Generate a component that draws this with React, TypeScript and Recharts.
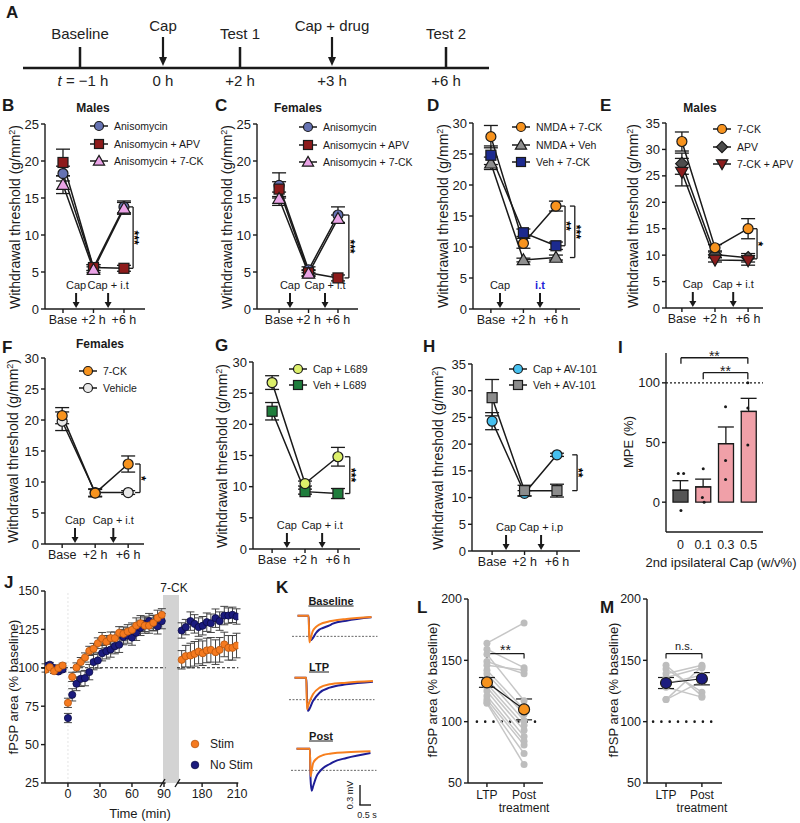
import React from 'react';
import {
  ComposedChart, LineChart, Line, Bar, Cell, Scatter, XAxis, YAxis,
  ErrorBar, ReferenceLine, ReferenceDot,
} from 'recharts';

const FONT = '"Liberation Sans", Arial, Helvetica, sans-serif';
const INK = '#1a1a1a';

// ---------- A: timeline
const tlEvents = ['Baseline', 'Cap', 'Test 1', 'Cap + drug', 'Test 2'];
const tlTimes = ['= −1 h', '0 h', '+2 h', '+3 h', '+6 h'];
const tlIsArrow = [false, true, false, true, false];

// ---------- B–H: withdrawal threshold (g/mm²)
const timeLabels = ['Base', '+2 h', '+6 h'];

const bAniso = [18.3, 5.6, 13.8];
const bAnisoErr = [1.0, 0.4, 0.8];
const bAnisoApv = [19.8, 5.6, 5.5];
const bAnisoApvErr = [1.8, 0.4, 0.4];
const bAniso7ck = [16.8, 5.3, 13.6];
const bAniso7ckErr = [1.2, 0.4, 0.8];

const cAniso = [16.7, 5.3, 12.7];
const cAnisoErr = [1.7, 0.4, 1.1];
const cAnisoApv = [16.2, 4.9, 4.2];
const cAnisoApvErr = [1.0, 0.4, 0.4];
const cAniso7ck = [14.9, 4.8, 12.2];
const cAniso7ckErr = [0.9, 0.4, 0.5];

const dNmda7ck = [27.8, 10.6, 16.6];
const dNmda7ckErr = [1.8, 0.8, 0.8];
const dNmdaVeh = [23.5, 7.9, 8.3];
const dNmdaVehErr = [1.0, 0.3, 0.4];
const dVeh7ck = [24.8, 12.3, 10.2];
const dVeh7ckErr = [1.5, 0.6, 0.6];

const e7ck = [31.5, 11.4, 15.0];
const e7ckErr = [1.8, 0.6, 1.9];
const eApv = [27.3, 10.1, 9.5];
const eApvErr = [2.0, 0.5, 0.8];
const e7ckApv = [25.7, 9.1, 9.0];
const e7ckApvErr = [2.6, 0.4, 0.9];

const f7ck = [20.7, 8.2, 12.9];
const f7ckErr = [1.3, 0.6, 1.3];
const fVehicle = [19.8, 8.3, 8.3];
const fVehicleErr = [1.5, 0.6, 0.3];

const gCapL689 = [26.7, 10.5, 14.8];
const gCapL689Err = [1.1, 0.4, 1.5];
const gVehL689 = [22.1, 9.2, 8.9];
const gVehL689Err = [1.4, 0.4, 0.8];

const hCapAv = [24.3, 10.8, 18.0];
const hCapAvErr = [1.6, 0.5, 0.3];
const hVehAv = [28.7, 11.3, 11.3];
const hVehAvErr = [3.4, 1.0, 1.2];

const ticks25 = [0, 5, 10, 15, 20, 25];
const ticks30 = [0, 5, 10, 15, 20, 25, 30];
const ticks35 = [0, 5, 10, 15, 20, 25, 30, 35];

// ---------- I: MPE (%)
const iDoses = ['0', '0.1', '0.3', '0.5'];
const iMpe = [10, 12.8, 49, 76];
const iMpeErr = [8, 6.5, 14, 11];
const iDotGroup = [0, 0, 0, 1, 1, 1, 2, 2, 2, 3, 3, 3];
const iDotShift = [-0.12, 0.12, 0, 0, -0.04, 0.04, 0, 0, 0, 0, 0, 0];
const iDotVal = [24, 24, -7, 28, 4, 0, 80, 35, 19, 100, 79, 48];

// ---------- J: fPSP area time course
const jPreT = [-21, -17, -13, -9, -5];
const jStimPre = [98.7, 100.4, 97.8, 99.8, 101.5];
const jStimPreErr = [1.5, 1.5, 1.5, 2, 1.5];
const jNoPre = [101.1, 102, 99.8, 97.6, 98.9];
const jNoPreErr = [1.5, 1.5, 1.5, 1.5, 1.5];

const jPostT = [0, 4, 8, 12, 16, 20, 24, 28, 32, 36, 40, 44, 48, 52, 56, 60, 64, 68, 72, 76, 80, 84, 88];
const jStimPost = [77.2, 94.1, 100.2, 103.7, 106.7, 111, 112.4, 116, 119, 117, 119.3, 119.3, 122.8, 122.1, 123.6, 124.7, 127.5, 129, 127.5, 127.5, 129.3, 132.5, 134.5];
const jStimPostErr = [3, 3, 3, 3, 3, 3, 3.5, 3.5, 4, 4, 4, 4, 4, 4.5, 4.5, 4.5, 5, 5, 5, 5, 5, 5, 4];
const jNoPost = [67.3, 82.4, 89.6, 92.8, 93.3, 97.2, 103.7, 104.8, 109.5, 110.8, 111.9, 114.1, 115, 120, 121, 119.7, 122.8, 126, 128.6, 130.4, 129, 127, 130.4];
const jNoPostErr = [3, 4, 4.5, 5, 5, 5, 5, 5, 5, 5, 5, 5, 5, 5, 5, 5, 5, 5, 5, 5, 5, 5, 5];

const jLateT = [162.5, 166, 170, 173.5, 177, 180.5, 184, 187.5, 191.5, 195, 199, 202.5, 206, 209.5];
const jStimLate = [105.2, 107.6, 108, 109.1, 110.6, 109.5, 111.3, 111.7, 110.2, 111.7, 115.2, 113, 113, 114.5];
const jStimLateErr = [6, 7, 8, 8, 8, 8, 8, 8, 8, 8, 8, 8, 8, 8];
const jNoLate = [124.3, 126.5, 130.4, 128.6, 126.5, 127.4, 129.7, 129, 132.3, 130.4, 134, 134, 134.5, 133.4];
const jNoLateErr = [5, 5, 6, 6, 6, 6, 6, 6, 6, 6, 6, 5, 5, 5];
const jTicksY = [25, 50, 75, 100, 125, 150];

// ---------- K: example traces (s, mV relative to baseline)
const kBaseT = [0, 0.5, 0.53, 0.6, 0.68, 0.83, 0.98, 1.14, 1.44, 1.59, 2.2, 3.33];
const kBaseStim = [0, 0, -0.4, -0.33, -0.235, -0.17, -0.135, -0.11, -0.085, -0.075, -0.05, -0.02];
const kBaseNo = [0, 0, -0.3, -0.37, -0.34, -0.26, -0.21, -0.185, -0.145, -0.12, -0.075, -0.025];
const kLtpT = [0, 0.53, 0.56, 0.6, 0.83, 1.13, 1.58, 2.33, 3.53];
const kLtpStim = [0, 0, -0.475, -0.43, -0.25, -0.15, -0.1, -0.075, -0.05];
const kLtpNo = [0, 0, -0.3, -0.5, -0.35, -0.225, -0.15, -0.1, -0.06];
const kPostT = [0, 0.6, 0.63, 0.68, 0.75, 0.9, 1.05, 1.2, 1.5, 1.65, 2.25, 3.33];
const kPostStim = [0, 0, -0.415, -0.33, -0.215, -0.15, -0.115, -0.095, -0.075, -0.068, -0.055, -0.04];
const kPostNo = [0, 0, -0.45, -0.63, -0.56, -0.415, -0.34, -0.29, -0.23, -0.2, -0.14, -0.065];

// ---------- L / M: paired fPSP area
const pairLabels = ['LTP', 'Post\ntreatment'];
const lLtp = [164, 159, 155, 149, 146, 142, 139, 135, 131, 128, 125, 121, 118, 116, 115];
const lPost = [180.5, 144, 117, 139, 142, 110, 106, 101, 97, 93, 88, 84, 81, 74, 65];
const lMean = [132, 110];
const lMeanErr = [4, 8.5];
const mLtp = [146, 143, 139, 136, 131, 128, 118, 118];
const mPost = [121, 124, 146, 144, 138, 120, 145, 133];
const mMean = [131.5, 135];
const mMeanErr = [4.5, 5];
const lmTicks = [50, 100, 150, 200];

const ORANGE = '#f7931e';
const STIM = '#f57a1f';
const NAVY = '#1b1b7e';

const axisStyle = { stroke: INK, strokeWidth: 1.4 };

// ---------- helpers
function Txt({ x, y, size = 12, weight = 400, anchor = 'middle', color = INK, underline = false, children }: any) {
  const tx = anchor === 'middle' ? '-50%' : anchor === 'end' ? '-100%' : '0';
  return (
    <div style={{
      position: 'absolute', left: x, top: y, transform: `translate(${tx}, -50%)`, fontSize: size,
      fontWeight: weight, color, whiteSpace: 'nowrap', lineHeight: 1,
      textDecoration: underline ? 'underline' : 'none',
    }}>{children}</div>
  );
}

function VTxt({ x, y, size = 14, children }: any) {
  return (
    <div style={{
      position: 'absolute', left: x, top: y, transform: 'translate(-50%, -50%) rotate(-90deg)',
      fontSize: size, color: INK, whiteSpace: 'nowrap', lineHeight: 1,
    }}>{children}</div>
  );
}

function Marker({ cx, cy, shape, fill, r = 5, stroke = INK }: any) {
  if (cx == null || cy == null || Number.isNaN(cx) || Number.isNaN(cy)) return null;
  const sw = 1.2;
  if (shape === 'square') {
    return <rect x={cx - r} y={cy - r} width={2 * r} height={2 * r} fill={fill} stroke={stroke} strokeWidth={sw} />;
  }
  if (shape === 'triangle') {
    const h = r * 1.25;
    return <polygon points={`${cx},${cy - h} ${cx + h},${cy + h * 0.75} ${cx - h},${cy + h * 0.75}`} fill={fill} stroke={stroke} strokeWidth={sw} />;
  }
  if (shape === 'down') {
    const h = r * 1.25;
    return <polygon points={`${cx},${cy + h} ${cx + h},${cy - h * 0.75} ${cx - h},${cy - h * 0.75}`} fill={fill} stroke={stroke} strokeWidth={sw} />;
  }
  if (shape === 'diamond') {
    const h = r * 1.25;
    return <polygon points={`${cx},${cy - h} ${cx + h},${cy} ${cx},${cy + h} ${cx - h},${cy}`} fill={fill} stroke={stroke} strokeWidth={sw} />;
  }
  return <circle cx={cx} cy={cy} r={r} fill={fill} stroke={stroke} strokeWidth={sw} />;
}

function ArrowMark({ cx, cy, label, color = INK, bold = false }: any) {
  return (
    <g>
      <line x1={cx} y1={cy - 16} x2={cx} y2={cy - 6} stroke={INK} strokeWidth={2} />
      <polygon points={`${cx - 3.5},${cy - 7} ${cx + 3.5},${cy - 7} ${cx},${cy - 1}`} fill={INK} />
      <text x={cx} y={cy - 20} textAnchor="middle" fontSize={11} fill={color} fontWeight={bold ? 700 : 400}>{label}</text>
    </g>
  );
}

// stars written along a vertical bracket
function StarText({ cx, cy, text }: any) {
  const x = cx - 3;
  return (
    <text x={x} y={cy} transform={`rotate(90 ${x} ${cy})`} textAnchor="middle" fontSize={12} fontWeight={700} fill="#000">{text}</text>
  );
}

// ---------- behaviour panels (B–H)
type Series = { name: string; values: number[]; errors: number[]; shape: string; fill: string };
type PanelCfg = {
  letter: string; letterX: number; letterY: number;
  title?: string; titleX?: number; titleY?: number;
  axisX: number; topPx: number; zeroPx: number; xEnd: number;
  xDomain: number[]; yMax: number; yTicks: number[]; yTitleX: number;
  series: Series[]; order?: number[];
  arrows: { x: number; label: string; color?: string; bold?: boolean }[];
  brackets: { x: number; y1: number; y2: number; text: string }[];
  legend: { x: number; y: number; dy: number };
};

const panels: PanelCfg[] = [
  {
    letter: 'B', letterX: 2, letterY: 105, title: 'Males', titleX: 93, titleY: 108,
    axisX: 45, topPx: 124, zeroPx: 309, xEnd: 145, xDomain: [-0.59, 2.69], yMax: 25, yTicks: ticks25, yTitleX: 15,
    series: [
      { name: 'Anisomycin', values: bAniso, errors: bAnisoErr, shape: 'circle', fill: '#6673b3' },
      { name: 'Anisomycin + APV', values: bAnisoApv, errors: bAnisoApvErr, shape: 'square', fill: '#8e1b1b' },
      { name: 'Anisomycin + 7-CK', values: bAniso7ck, errors: bAniso7ckErr, shape: 'triangle', fill: '#eaa3e6' },
    ],
    arrows: [{ x: 0.43, label: 'Cap' }, { x: 1.48, label: 'Cap + i.t' }],
    brackets: [{ x: 2.3, y1: 13.8, y2: 5.5, text: '***' }],
    legend: { x: 99, y: 126, dy: 17.5 },
  },
  {
    letter: 'C', letterX: 215, letterY: 105, title: 'Females', titleX: 298, titleY: 108,
    axisX: 257, topPx: 124, zeroPx: 309, xEnd: 358, xDomain: [-0.75, 2.68], yMax: 25, yTicks: ticks25, yTitleX: 227,
    series: [
      { name: 'Anisomycin', values: cAniso, errors: cAnisoErr, shape: 'circle', fill: '#6673b3' },
      { name: 'Anisomycin + APV', values: cAnisoApv, errors: cAnisoApvErr, shape: 'square', fill: '#8e1b1b' },
      { name: 'Anisomycin + 7-CK', values: cAniso7ck, errors: cAniso7ckErr, shape: 'triangle', fill: '#eaa3e6' },
    ],
    arrows: [{ x: 0.37, label: 'Cap' }, { x: 1.56, label: 'Cap + i.t' }],
    brackets: [{ x: 2.37, y1: 12.7, y2: 4.2, text: '***' }],
    legend: { x: 308, y: 127, dy: 17.5 },
  },
  {
    letter: 'D', letterX: 427, letterY: 105,
    axisX: 473, topPx: 123, zeroPx: 309, xEnd: 580, xDomain: [-0.55, 2.74], yMax: 30, yTicks: ticks30, yTitleX: 443,
    series: [
      { name: 'NMDA + 7-CK', values: dNmda7ck, errors: dNmda7ckErr, shape: 'circle', fill: ORANGE },
      { name: 'NMDA + Veh', values: dNmdaVeh, errors: dNmdaVehErr, shape: 'triangle', fill: '#8f8f8f' },
      { name: 'Veh + 7-CK', values: dVeh7ck, errors: dVeh7ckErr, shape: 'square', fill: '#1c2a8f' },
    ],
    arrows: [{ x: 0.28, label: 'Cap' }, { x: 1.51, label: 'i.t', color: '#2323d8', bold: true }],
    brackets: [{ x: 2.28, y1: 16.6, y2: 10.2, text: '**' }, { x: 2.58, y1: 16.6, y2: 8.3, text: '***' }],
    legend: { x: 521, y: 127, dy: 17.5 },
  },
  {
    letter: 'E', letterX: 600, letterY: 105, title: 'Males', titleX: 700, titleY: 108,
    axisX: 666, topPx: 123, zeroPx: 308, xEnd: 763, xDomain: [-0.48, 2.45], yMax: 35, yTicks: ticks35, yTitleX: 633,
    series: [
      { name: '7-CK', values: e7ck, errors: e7ckErr, shape: 'circle', fill: ORANGE },
      { name: 'APV', values: eApv, errors: eApvErr, shape: 'diamond', fill: '#4d4d4d' },
      { name: '7-CK + APV', values: e7ckApv, errors: e7ckApvErr, shape: 'down', fill: '#8b1d1d' },
    ],
    order: [1, 2, 0],
    arrows: [{ x: 0.33, label: 'Cap' }, { x: 1.55, label: 'Cap + i.t' }],
    brackets: [{ x: 2.27, y1: 15.0, y2: 9.3, text: '*' }],
    legend: { x: 722, y: 129, dy: 17.5 },
  },
  {
    letter: 'F', letterX: 2, letterY: 347, title: 'Females', titleX: 100, titleY: 344,
    axisX: 45, topPx: 358, zeroPx: 544, xEnd: 144, xDomain: [-0.52, 2.48], yMax: 30, yTicks: ticks30, yTitleX: 13,
    series: [
      { name: '7-CK', values: f7ck, errors: f7ckErr, shape: 'circle', fill: ORANGE },
      { name: 'Vehicle', values: fVehicle, errors: fVehicleErr, shape: 'circle', fill: '#e8e8e8' },
    ],
    order: [1, 0],
    arrows: [{ x: 0.39, label: 'Cap' }, { x: 1.55, label: 'Cap + i.t' }],
    brackets: [{ x: 2.36, y1: 12.9, y2: 8.3, text: '*' }],
    legend: { x: 88, y: 371, dy: 16.5 },
  },
  {
    letter: 'G', letterX: 215, letterY: 345,
    axisX: 253, topPx: 362, zeroPx: 549, xEnd: 360, xDomain: [-0.58, 2.67], yMax: 30, yTicks: ticks30, yTitleX: 222,
    series: [
      { name: 'Cap + L689', values: gCapL689, errors: gCapL689Err, shape: 'circle', fill: '#dcef6a' },
      { name: 'Veh + L689', values: gVehL689, errors: gVehL689Err, shape: 'square', fill: '#1f7d3c' },
    ],
    order: [1, 0],
    arrows: [{ x: 0.45, label: 'Cap' }, { x: 1.52, label: 'Cap + i.t' }],
    brackets: [{ x: 2.36, y1: 14.8, y2: 8.9, text: '***' }],
    legend: { x: 298, y: 369, dy: 16 },
  },
  {
    letter: 'H', letterX: 423, letterY: 346,
    axisX: 472, topPx: 364, zeroPx: 551, xEnd: 580, xDomain: [-0.62, 2.71], yMax: 35, yTicks: ticks35, yTitleX: 438,
    series: [
      { name: 'Cap + AV-101', values: hCapAv, errors: hCapAvErr, shape: 'circle', fill: '#46c0ef' },
      { name: 'Veh + AV-101', values: hVehAv, errors: hVehAvErr, shape: 'square', fill: '#8c8c8c' },
    ],
    arrows: [{ x: 0.43, label: 'Cap' }, { x: 1.51, label: 'Cap + i.p' }],
    brackets: [{ x: 2.62, y1: 18.0, y2: 11.3, text: '**' }],
    legend: { x: 518, y: 369, dy: 16 },
  },
];

function LegendBlock({ x, y, dy, series }: any) {
  return (
    <>
      {series.map((s: Series, i: number) => (
        <div key={i} style={{
          position: 'absolute', left: x - 9, top: y + i * dy - 7, height: 14,
          display: 'flex', alignItems: 'center', whiteSpace: 'nowrap',
        }}>
          <svg width={18} height={14}>
            <line x1={0} y1={7} x2={18} y2={7} stroke={INK} strokeWidth={1.5} />
            <Marker cx={9} cy={7} shape={s.shape} fill={s.fill} r={4.5} />
          </svg>
          <span style={{ marginLeft: 6, fontSize: 10.5, color: INK }}>{s.name}</span>
        </div>
      ))}
    </>
  );
}

function BehaviorPanel({ p }: { p: PanelCfg }) {
  const YW = 30, MT = 8, MR = 14, XH = 28;
  const rows = timeLabels.map((_, i) => {
    const r: any = { x: i };
    p.series.forEach((s, j) => { r[`v${j}`] = s.values[i]; r[`e${j}`] = s.errors[i]; });
    return r;
  });
  const width = YW + (p.xEnd - p.axisX) + MR;
  const height = MT + (p.zeroPx - p.topPx) + XH;
  const order = p.order ?? p.series.map((_, j) => j);
  const tk = 0.15;
  return (
    <>
      <Txt x={p.letterX} y={p.letterY} size={17} weight={700} anchor="start">{p.letter}</Txt>
      {p.title && <Txt x={p.titleX} y={p.titleY} size={12} weight={700}>{p.title}</Txt>}
      <VTxt x={p.yTitleX} y={(p.topPx + p.zeroPx) / 2} size={14}>Withdrawal threshold (g/mm<sup style={{ fontSize: 9 }}>2</sup>)</VTxt>
      <div style={{ position: 'absolute', left: p.axisX - YW, top: p.topPx - MT }}>
        <ComposedChart width={width} height={height} data={rows} margin={{ top: MT, right: MR, bottom: 0, left: 0 }}>
          <XAxis type="number" dataKey="x" domain={p.xDomain} allowDataOverflow ticks={[0, 1, 2]} interval={0}
            tickFormatter={(v: number) => timeLabels[v]} height={XH} tick={{ fontSize: 12.5, fill: INK }}
            tickSize={4} axisLine={axisStyle} tickLine={axisStyle} />
          <YAxis type="number" domain={[0, p.yMax]} allowDataOverflow ticks={p.yTicks} interval={0} width={YW}
            tick={{ fontSize: 13, fill: INK }} tickSize={4} axisLine={axisStyle} tickLine={axisStyle} />
          {p.arrows.map((a, i) => (
            <ReferenceDot key={`a${i}`} x={a.x} y={0} r={0} ifOverflow="visible"
              shape={(d: any) => <ArrowMark cx={d.cx} cy={d.cy} label={a.label} color={a.color} bold={a.bold} />} />
          ))}
          {p.brackets.map((b, i) => (
            <ReferenceLine key={`bv${i}`} segment={[{ x: b.x, y: b.y1 }, { x: b.x, y: b.y2 }]} stroke={INK} strokeWidth={1.3} ifOverflow="visible" />
          ))}
          {p.brackets.map((b, i) => (
            <ReferenceLine key={`bt${i}`} segment={[{ x: b.x - tk, y: b.y1 }, { x: b.x, y: b.y1 }]} stroke={INK} strokeWidth={1.3} ifOverflow="visible" />
          ))}
          {p.brackets.map((b, i) => (
            <ReferenceLine key={`bb${i}`} segment={[{ x: b.x - tk, y: b.y2 }, { x: b.x, y: b.y2 }]} stroke={INK} strokeWidth={1.3} ifOverflow="visible" />
          ))}
          {p.brackets.map((b, i) => (
            <ReferenceDot key={`bs${i}`} x={b.x} y={(b.y1 + b.y2) / 2} r={0} ifOverflow="visible"
              shape={(d: any) => <StarText cx={d.cx} cy={d.cy} text={b.text} />} />
          ))}
          {order.map((j) => {
            const s = p.series[j];
            return (
              <Line key={`l${j}`} dataKey={`v${j}`} stroke={INK} strokeWidth={1.5} isAnimationActive={false} activeDot={false}
                dot={(d: any) => <g key={`m${j}-${d.index}`}><Marker cx={d.cx} cy={d.cy} shape={s.shape} fill={s.fill} r={5} /></g>}>
                <ErrorBar dataKey={`e${j}`} width={7} stroke={INK} strokeWidth={1.3} direction="y" />
              </Line>
            );
          })}
        </ComposedChart>
      </div>
      <LegendBlock x={p.legend.x} y={p.legend.y} dy={p.legend.dy} series={p.series} />
    </>
  );
}

// ---------- A
function PanelA() {
  const tlX = [80, 163, 240, 332, 446];
  return (
    <>
      <Txt x={6} y={12} size={17} weight={700} anchor="start">A</Txt>
      <svg style={{ position: 'absolute', left: 0, top: 0 }} width={500} height={95}>
        <line x1={23} y1={68} x2={489} y2={68} stroke={INK} strokeWidth={2.5} />
        {tlEvents.map((ev, i) => {
          const x = tlX[i];
          return (
            <g key={i}>
              {tlIsArrow[i] ? (
                <>
                  <line x1={x} y1={37} x2={x} y2={58} stroke={INK} strokeWidth={2.2} />
                  <polygon points={`${x - 4},57 ${x + 4},57 ${x},66`} fill={INK} />
                </>
              ) : (
                <line x1={x} y1={47} x2={x} y2={68} stroke={INK} strokeWidth={2.5} />
              )}
              <text x={x} y={tlIsArrow[i] ? 30.5 : 38.5} textAnchor="middle" fontSize={15} fill="#222">{ev}</text>
              <text x={i === 0 ? x + 3 : x} y={85.5} textAnchor="middle" fontSize={15} fill="#222">
                {i === 0 && <tspan fontStyle="italic">t </tspan>}{tlTimes[i]}
              </text>
            </g>
          );
        })}
      </svg>
    </>
  );
}

// ---------- I
function PanelI() {
  const YW = 30, MT = 4, MR = 4, XH = 22;
  const axisX = 666, topPx = 353, botPx = 532, xEnd = 763;
  const rows = iDoses.map((dose, i) => ({ dose, x: i, mpe: iMpe[i], err: [0, iMpeErr[i]] }));
  const dots = iDotGroup.map((g, k) => ({ x: g + iDotShift[k], y: iDotVal[k] }));
  const fills = ['#555555', '#f0a0a8', '#f0a0a8', '#f0a0a8'];
  const br = [
    { a: 0, b: 3, y: 121, lo: 116 },
    { a: 1, b: 3, y: 108.5, lo: 103 },
  ];
  return (
    <>
      <Txt x={618} y={347} size={17} weight={700} anchor="start">I</Txt>
      <VTxt x={628} y={442} size={13}>MPE (%)</VTxt>
      <Txt x={721} y={562} size={13}>2nd ipsilateral Cap (w/v%)</Txt>
      <div style={{ position: 'absolute', left: axisX - YW, top: topPx - MT }}>
        <ComposedChart width={YW + xEnd - axisX + MR} height={MT + botPx - topPx + XH} data={rows}
          margin={{ top: MT, right: MR, bottom: 0, left: 0 }}>
          <XAxis xAxisId="cat" type="category" dataKey="dose" padding={{ left: 3, right: 3 }} interval={0}
            height={XH} tick={{ fontSize: 12.5, fill: INK }} tickLine={false} axisLine={axisStyle} />
          <XAxis xAxisId="num" type="number" dataKey="x" hide domain={[-0.67, 3.68]} allowDataOverflow />
          <YAxis type="number" domain={[-25, 125]} allowDataOverflow ticks={[0, 50, 100]} interval={0} width={YW}
            tick={{ fontSize: 13, fill: INK }} tickSize={4} axisLine={axisStyle} tickLine={axisStyle} />
          <ReferenceLine xAxisId="num" y={100} stroke={INK} strokeDasharray="2 2" strokeWidth={1.2} />
          <Bar xAxisId="cat" dataKey="mpe" barSize={15} stroke={INK} strokeWidth={1.3} isAnimationActive={false}>
            {rows.map((_, i) => <Cell key={i} fill={fills[i]} />)}
          </Bar>
          <Line xAxisId="cat" dataKey="mpe" stroke="none" dot={false} activeDot={false} isAnimationActive={false}>
            <ErrorBar dataKey="err" width={8} stroke={INK} strokeWidth={1.3} direction="y" />
          </Line>
          <Scatter xAxisId="num" data={dots} dataKey="y" isAnimationActive={false}
            shape={(d: any) => <circle cx={d.cx} cy={d.cy} r={1.5} fill={INK} />} />
          {br.map((b, i) => (
            <ReferenceLine key={`h${i}`} xAxisId="num" segment={[{ x: b.a, y: b.y }, { x: b.b, y: b.y }]} stroke={INK} strokeWidth={1.3} ifOverflow="visible" />
          ))}
          {br.map((b, i) => (
            <ReferenceLine key={`l${i}`} xAxisId="num" segment={[{ x: b.a, y: b.lo }, { x: b.a, y: b.y }]} stroke={INK} strokeWidth={1.3} ifOverflow="visible" />
          ))}
          {br.map((b, i) => (
            <ReferenceLine key={`r${i}`} xAxisId="num" segment={[{ x: b.b, y: b.lo }, { x: b.b, y: b.y }]} stroke={INK} strokeWidth={1.3} ifOverflow="visible" />
          ))}
          {br.map((b, i) => (
            <ReferenceDot key={`t${i}`} xAxisId="num" x={(b.a + b.b) / 2} y={b.y} r={0} ifOverflow="visible"
              shape={(d: any) => <text x={d.cx} y={d.cy + 3} textAnchor="middle" fontSize={14} fill={INK}>**</text>} />
          ))}
        </ComposedChart>
      </div>
    </>
  );
}

// ---------- J
function PanelJ() {
  const YW = 42, MT = 9, XH = 22;
  const topPx = 591, botPx = 783;
  const h = MT + (botPx - topPx) + XH;
  const leftT = [...jPreT, ...jPostT];
  const leftS = [...jStimPre, ...jStimPost];
  const leftSe = [...jStimPreErr, ...jStimPostErr];
  const leftN = [...jNoPre, ...jNoPost];
  const leftNe = [...jNoPreErr, ...jNoPostErr];
  const leftRows = leftT.map((t, i) => ({ t, s: leftS[i], se: leftSe[i], n: leftN[i], ne: leftNe[i] }));
  const rightRows = jLateT.map((t, i) => ({ t, s: jStimLate[i], se: jStimLateErr[i], n: jNoLate[i], ne: jNoLateErr[i] }));
  const stimDot = (d: any) => <circle key={`s${d.index}`} cx={d.cx} cy={d.cy} r={3.6} fill={STIM} stroke="#b8560e" strokeWidth={0.8} />;
  const noDot = (d: any) => <circle key={`n${d.index}`} cx={d.cx} cy={d.cy} r={3.6} fill={NAVY} stroke="#0b0b45" strokeWidth={0.8} />;
  const series = [
    <Line key="n" dataKey="n" stroke="none" dot={noDot} activeDot={false} isAnimationActive={false}>
      <ErrorBar dataKey="ne" width={4} stroke="#444" strokeWidth={1} direction="y" />
    </Line>,
    <Line key="s" dataKey="s" stroke="none" dot={stimDot} activeDot={false} isAnimationActive={false}>
      <ErrorBar dataKey="se" width={4} stroke="#444" strokeWidth={1} direction="y" />
    </Line>,
  ];
  const xAxisProps = { height: XH, tick: { fontSize: 12.5, fill: INK }, tickSize: 4, axisLine: axisStyle, tickLine: axisStyle, interval: 0 as const };
  const MRL = 10, MRR = 12;
  return (
    <>
      <Txt x={4} y={582} size={17} weight={700} anchor="start">J</Txt>
      <Txt x={174} y={588} size={12}>7-CK</Txt>
      <VTxt x={13} y={687} size={13}>fPSP area (% baseline)</VTxt>
      <Txt x={140} y={813} size={13}>Time (min)</Txt>
      <div style={{ position: 'absolute', left: 163, top: 595, width: 16, height: 188, background: '#d3d3d3' }} />
      <div style={{ position: 'absolute', left: 45 - YW, top: topPx - MT }}>
        <ComposedChart width={YW + 120.6 + MRL} height={h} data={leftRows} margin={{ top: MT, right: MRL, bottom: 0, left: 0 }}>
          <XAxis type="number" dataKey="t" domain={[-21.5, 91.5]} allowDataOverflow ticks={[0, 30, 60, 90]} {...xAxisProps} />
          <YAxis type="number" domain={[25, 150]} allowDataOverflow ticks={jTicksY} interval={0} width={YW}
            tick={{ fontSize: 12.5, fill: INK }} tickSize={4} axisLine={axisStyle} tickLine={axisStyle} />
          <ReferenceLine x={0} stroke="#e4e4e4" strokeDasharray="2 2" />
          <ReferenceLine y={100} stroke={INK} strokeDasharray="3 2" strokeWidth={1.1} />
          {series}
        </ComposedChart>
      </div>
      <div style={{ position: 'absolute', left: 177, top: topPx - MT }}>
        <ComposedChart width={61.3 + MRR} height={h} data={rightRows} margin={{ top: MT, right: MRR, bottom: 0, left: 0 }}>
          <XAxis type="number" dataKey="t" domain={[158.5, 211]} allowDataOverflow ticks={[180, 210]} {...xAxisProps} />
          <YAxis hide type="number" domain={[25, 150]} allowDataOverflow />
          <ReferenceLine y={100} stroke={INK} strokeDasharray="3 2" strokeWidth={1.1} />
          {series}
        </ComposedChart>
      </div>
      <svg style={{ position: 'absolute', left: 150, top: 770 }} width={40} height={26}>
        <line x1={10} y1={17} x2={15} y2={9} stroke={INK} strokeWidth={1.4} />
        <line x1={25} y1={17} x2={30} y2={9} stroke={INK} strokeWidth={1.4} />
      </svg>
      <svg style={{ position: 'absolute', left: 189, top: 738 }} width={12} height={34}>
        <circle cx={6} cy={6} r={3.8} fill={STIM} stroke="#b8560e" strokeWidth={0.8} />
        <circle cx={6} cy={27} r={3.8} fill={NAVY} stroke="#0b0b45" strokeWidth={0.8} />
      </svg>
      <Txt x={210} y={744} size={12} anchor="start">Stim</Txt>
      <Txt x={210} y={765} size={12} anchor="start">No Stim</Txt>
    </>
  );
}

// ---------- K
function TracePanel({ ox, oy, t, stim, no, dash }: any) {
  const PXS = 22.2, PXV = 66.7;
  const xd = [-0.25, 3.6], yd = [-0.7, 0.1];
  const rows = t.map((tt: number, i: number) => ({ t: tt, o: stim[i], n: no[i] }));
  return (
    <div style={{ position: 'absolute', left: ox + xd[0] * PXS, top: oy - yd[1] * PXV }}>
      <LineChart width={(xd[1] - xd[0]) * PXS} height={(yd[1] - yd[0]) * PXV} data={rows} margin={{ top: 0, right: 0, bottom: 0, left: 0 }}>
        <XAxis hide type="number" dataKey="t" domain={xd} allowDataOverflow />
        <YAxis hide type="number" domain={yd} allowDataOverflow />
        <ReferenceLine y={dash} stroke="#666" strokeDasharray="2 1.5" strokeWidth={1} />
        <Line type="monotone" dataKey="n" stroke="#1e1e96" strokeWidth={2} dot={false} activeDot={false} isAnimationActive={false} />
        <Line type="monotone" dataKey="o" stroke="#f77f1e" strokeWidth={2} dot={false} activeDot={false} isAnimationActive={false} />
      </LineChart>
    </div>
  );
}

function PanelK() {
  return (
    <>
      <Txt x={276} y={587} size={17} weight={700} anchor="start">K</Txt>
      <Txt x={331} y={601} size={11} weight={700} underline>Baseline</Txt>
      <TracePanel ox={298} oy={616} t={kBaseT} stim={kBaseStim} no={kBaseNo} dash={-0.31} />
      <Txt x={319} y={667} size={11} weight={700} underline>LTP</Txt>
      <TracePanel ox={295} oy={678} t={kLtpT} stim={kLtpStim} no={kLtpNo} dash={-0.33} />
      <Txt x={321} y={736} size={11} weight={700} underline>Post</Txt>
      <TracePanel ox={297} oy={749} t={kPostT} stim={kPostStim} no={kPostNo} dash={-0.325} />
      <svg style={{ position: 'absolute', left: 355, top: 783 }} width={20} height={25}>
        <line x1={5} y1={2} x2={5} y2={22} stroke={INK} strokeWidth={1.4} />
        <line x1={4.3} y1={22} x2={16} y2={22} stroke={INK} strokeWidth={1.4} />
      </svg>
      <VTxt x={350} y={795} size={9}>0.3 mV</VTxt>
      <Txt x={367} y={815} size={9}>0.5 s</Txt>
    </>
  );
}

// ---------- L / M
function PairTick({ x, y, payload }: any) {
  const lines = pairLabels[payload.value].split('\n');
  return (
    <text x={x} y={y + 10} textAnchor="middle" fontSize={12} fill={INK}>
      {lines.map((l, i) => <tspan key={i} x={x} dy={i === 0 ? 0 : 13}>{l}</tspan>)}
    </text>
  );
}

function PairPanel({ letter, letterX, axisX, xEnd, xDomain, ltp, post, mean, err, color, sig, sigDy, dotSeg, yTitleX }: any) {
  const YW = 34, MT = 9, MR = 24, XH = 34;
  const topPx = 599, botPx = 783;
  const rows = [0, 1].map((x) => {
    const r: any = { x, mean: mean[x], err: err[x] };
    ltp.forEach((_: number, k: number) => { r[`p${k}`] = x === 0 ? ltp[k] : post[k]; });
    return r;
  });
  const grayDot = (d: any) => <circle key={`g${d.index}`} cx={d.cx} cy={d.cy} r={3.5} fill="#bdbdbd" />;
  return (
    <>
      <Txt x={letterX} y={607} size={17} weight={700} anchor="start">{letter}</Txt>
      <VTxt x={yTitleX} y={690} size={13}>fPSP area (% baseline)</VTxt>
      <div style={{ position: 'absolute', left: axisX - YW, top: topPx - MT }}>
        <LineChart width={YW + xEnd - axisX + MR} height={MT + botPx - topPx + XH} data={rows}
          margin={{ top: MT, right: MR, bottom: 0, left: 0 }}>
          <XAxis type="number" dataKey="x" domain={xDomain} allowDataOverflow ticks={[0, 1]} interval={0}
            height={XH} tick={<PairTick />} tickSize={4} axisLine={axisStyle} tickLine={axisStyle} />
          <YAxis type="number" domain={[50, 200]} allowDataOverflow ticks={lmTicks} interval={0} width={YW}
            tick={{ fontSize: 12.5, fill: INK }} tickSize={4} axisLine={axisStyle} tickLine={axisStyle} />
          <ReferenceLine segment={[{ x: dotSeg[0], y: 100 }, { x: dotSeg[1], y: 100 }]} stroke={INK} strokeWidth={2.6}
            strokeDasharray="0 8.3" strokeLinecap="round" ifOverflow="visible" />
          {ltp.map((_: number, k: number) => (
            <Line key={`p${k}`} dataKey={`p${k}`} stroke="#c6c6c6" strokeWidth={1.5} dot={grayDot} activeDot={false} isAnimationActive={false} />
          ))}
          <ReferenceLine segment={[{ x: 0, y: 155.5 }, { x: 1, y: 155.5 }]} stroke={INK} strokeWidth={1.2} ifOverflow="visible" />
          <ReferenceLine segment={[{ x: 0, y: 151.5 }, { x: 0, y: 155.5 }]} stroke={INK} strokeWidth={1.2} ifOverflow="visible" />
          <ReferenceLine segment={[{ x: 1, y: 151.5 }, { x: 1, y: 155.5 }]} stroke={INK} strokeWidth={1.2} ifOverflow="visible" />
          <ReferenceDot x={0.5} y={155.5} r={0} ifOverflow="visible"
            shape={(d: any) => <text x={d.cx} y={d.cy + sigDy} textAnchor="middle" fontSize={sig === '**' ? 14 : 11} fill={INK}>{sig}</text>} />
          <Line dataKey="mean" stroke={INK} strokeWidth={1.2} activeDot={false} isAnimationActive={false}
            dot={(d: any) => <circle key={`mm${d.index}`} cx={d.cx} cy={d.cy} r={5.5} fill={color} stroke={INK} strokeWidth={1.2} />}>
            <ErrorBar dataKey="err" width={8} stroke={INK} strokeWidth={1.2} direction="y" />
          </Line>
        </LineChart>
      </div>
    </>
  );
}

export default function App() {
  return (
    <div style={{ position: 'absolute', left: 0, top: 0, width: 800, height: 823, background: '#fff', fontFamily: FONT, overflow: 'hidden' }}>
      <PanelA />
      {panels.map((p) => <BehaviorPanel key={p.letter} p={p} />)}
      <PanelI />
      <PanelJ />
      <PanelK />
      <PairPanel letter="L" letterX={417} axisX={468} xEnd={543} xDomain={[-0.51, 1.51]} ltp={lLtp} post={lPost}
        mean={lMean} err={lMeanErr} color={ORANGE} sig="**" sigDy={1} dotSeg={[-0.27, 1.35]} yTitleX={432} />
      <PairPanel letter="M" letterX={600} axisX={647} xEnd={722} xDomain={[-0.53, 1.56]} ltp={mLtp} post={mPost}
        mean={mMean} err={mMeanErr} color={NAVY} sig="n.s." sigDy={-4} dotSeg={[-0.36, 1.36]} yTitleX={613} />
    </div>
  );
}
